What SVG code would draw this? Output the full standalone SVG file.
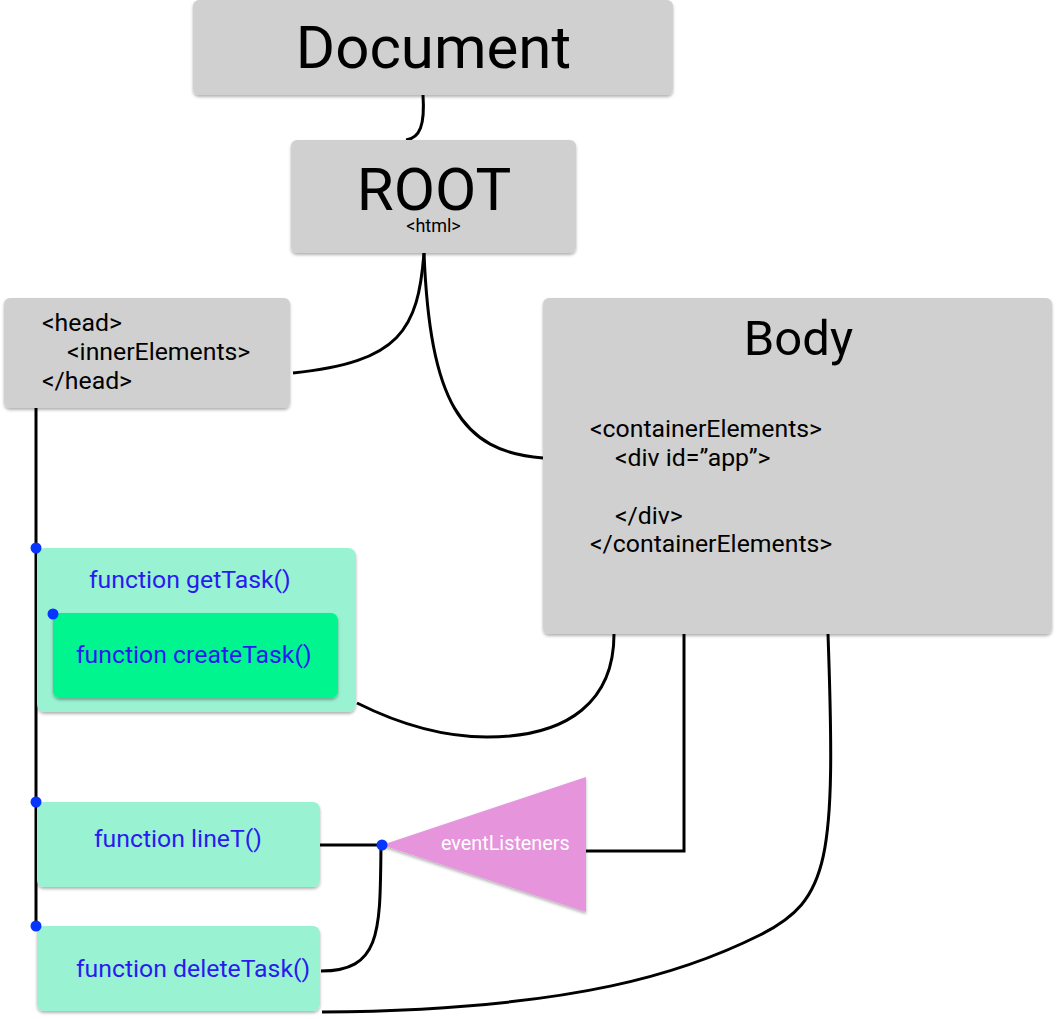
<svg xmlns="http://www.w3.org/2000/svg" width="1056" height="1019" viewBox="0 0 1056 1019">
<defs>
<filter id="sh" x="-10%" y="-10%" width="120%" height="130%">
<feDropShadow dx="0" dy="2" stdDeviation="1.5" flood-color="#000" flood-opacity="0.3"/>
</filter>
<style>
text{font-family:Roboto,"Liberation Sans",sans-serif;}
.gray{fill:#d0d0d0;filter:url(#sh);}
.lg{fill:#99f2d1;filter:url(#sh);}
.bg{fill:#00f58f;filter:url(#sh);}
.big{font-size:60px;fill:#000;text-anchor:middle;}
.code{font-size:24.8px;fill:#000;}
.fn{font-size:24.8px;fill:#2a1af0;}
.conn path,.conn line{fill:none;stroke:#000;stroke-width:3;}
.dot{fill:#0535ff;}
</style>
</defs>
<rect width="1056" height="1019" fill="#fff"/>
<g class="conn" id="connectors">
<path d="M423,95 C425,125 420,138 406,140"/>
<path d="M424,253 C418,330 400,362 293,373"/>
<path d="M424,253 C430,400 460,452 543,458"/>
<line x1="36" y1="408" x2="36" y2="926"/>
<line x1="36" y1="614" x2="53" y2="614"/>
<path d="M614,634 C614,700 570,737 487,737 C440,737 395,722 357,703"/>
<path d="M684,634 L684,851 L586,851"/>
<line x1="320" y1="845" x2="381" y2="845"/>
<path d="M381,845 C380,930 382,971 321,971"/>
<path d="M828,634 C836,860 830,900 760,935 C690,970 580,1010 322,1012"/>
</g>
<g id="document">
<rect class="gray" x="193" y="0" width="480" height="95" rx="6"/>
<text class="big" x="433.5" y="68" font-size="61">Document</text>
</g>
<g id="root">
<rect class="gray" x="291" y="140" width="285" height="113" rx="6"/>
<text class="big" x="434" y="210">ROOT</text>
<text x="433.5" y="232" font-size="18" text-anchor="middle">&lt;html&gt;</text>
</g>
<g id="head">
<rect class="gray" x="4" y="298" width="286" height="110" rx="6"/>
<text class="code" x="42" y="331">&lt;head&gt;</text>
<text class="code" x="67" y="360">&lt;innerElements&gt;</text>
<text class="code" x="42" y="389">&lt;/head&gt;</text>
</g>
<g id="body">
<rect class="gray" x="543" y="298" width="509" height="336" rx="6"/>
<text x="798.5" y="355" font-size="49" text-anchor="middle">Body</text>
<text class="code" x="590" y="437">&lt;containerElements&gt;</text>
<text class="code" x="615" y="466">&lt;div id=”app”&gt;</text>
<text class="code" x="615" y="524">&lt;/div&gt;</text>
<text class="code" x="590" y="552">&lt;/containerElements&gt;</text>
</g>
<g id="getTask">
<rect class="lg" x="37" y="548" width="319" height="164" rx="8"/>
<text class="fn" x="89" y="588">function getTask()</text>
</g>
<g id="createTask">
<rect class="bg" x="53" y="613" width="285" height="85" rx="7"/>
<text class="fn" x="76" y="663">function createTask()</text>
</g>
<g id="lineT">
<rect class="lg" x="37" y="802" width="283" height="85" rx="7"/>
<text class="fn" x="94" y="847">function lineT()</text>
</g>
<g id="deleteTask">
<rect class="lg" x="37" y="926" width="283" height="85" rx="7"/>
<text class="fn" x="76" y="977">function deleteTask()</text>
</g>
<g id="eventListeners">
<polygon points="382,845 586,777 586,912" fill="#e695dd" filter="url(#sh)"/>
<text x="441" y="850" font-size="19.8" fill="#fff">eventListeners</text>
</g>
<g id="dots">
<circle class="dot" cx="36" cy="548" r="5.5"/>
<circle class="dot" cx="53" cy="614" r="5.5"/>
<circle class="dot" cx="36" cy="802" r="5.5"/>
<circle class="dot" cx="36" cy="926" r="5.5"/>
<circle class="dot" cx="382" cy="845" r="5.5"/>
</g>
</svg>
